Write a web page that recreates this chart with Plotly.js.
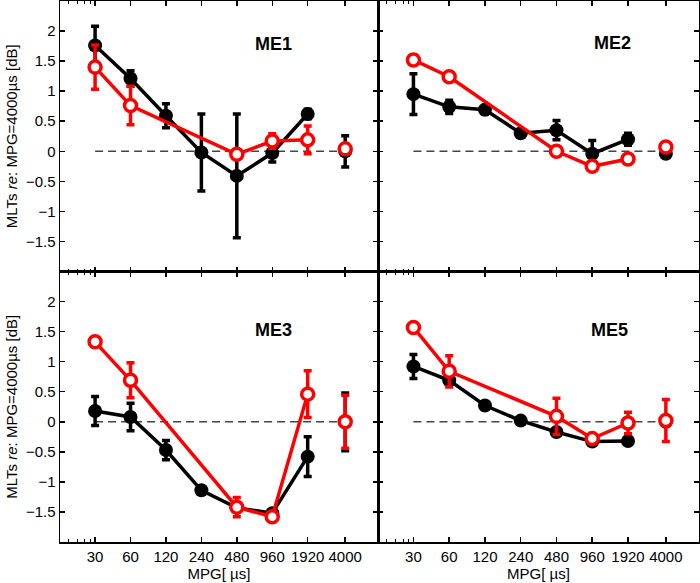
<!DOCTYPE html>
<html>
<head>
<meta charset="utf-8">
<script src="https://cdn.plot.ly/plotly-3.0.1.min.js"></script>
<style>
  body { margin: 0; background: #fff; }
  #graph { width: 700px; height: 583px; }
</style>
</head>
<body>
<div id="graph"></div>
<script>
// x positions (MPG in microseconds)
var mpgBlack = [30, 60, 120, 240, 480, 960, 1920];
var mpgRed = [30, 60, 480, 960, 1920];
var mpgRef = [4000];
var tickVals = [30, 60, 120, 240, 480, 960, 1920, 4000];
var tickText = ['30', '60', '120', '240', '480', '960', '1920', '4000'];
var panelNames = ['ME1', 'ME2', 'ME3', 'ME5'];

// ME1
var me1Black = [1.76, 1.21, 0.59, -0.02, -0.41, -0.03, 0.62];
var me1BlackErr = [0.32, 0.13, 0.2, 0.64, 1.03, 0.15, 0.08];
var me1Red = [1.40, 0.76, -0.05, 0.17, 0.19];
var me1RedErr = [0.37, 0.32, 0.04, 0.12, 0.23];
var me1Ref = [0, 0.04];
var me1RefErr = [0.26, 0.05];

// ME2
var me2Black = [0.95, 0.74, 0.69, 0.30, 0.35, -0.04, 0.2];
var me2BlackErr = [0.34, 0.11, 0.07, 0.03, 0.16, 0.22, 0.1];
var me2Red = [1.52, 1.24, 0.0, -0.25, -0.13];
var me2RedErr = [0.08, 0.07, 0.03, 0.03, 0.03];
var me2Ref = [-0.04, 0.07];
var me2RefErr = [0.04, 0.03];

// ME3
var me3Black = [0.18, 0.08, -0.47, -1.14, -1.43, -1.52, -0.58];
var me3BlackErr = [0.24, 0.23, 0.16, 0.05, 0.05, 0.05, 0.33];
var me3Red = [1.33, 0.69, -1.42, -1.58, 0.46];
var me3RedErr = [0.03, 0.29, 0.16, 0.03, 0.39];
var me3Ref = [0, 0];
var me3RefErr = [0.48, 0.44];

// ME5
var me5Black = [0.92, 0.69, 0.27, 0.02, -0.17, -0.33, -0.32];
var me5BlackErr = [0.2, 0.07, 0.03, 0.03, 0.05, 0.05, 0.05];
var me5Red = [1.57, 0.84, 0.09, -0.28, -0.02];
var me5RedErr = [0.07, 0.26, 0.3, 0.05, 0.18];
var me5Ref = [0, 0.02];
var me5RefErr = [0.05, 0.35];

var panels = [
  {b: me1Black, be: me1BlackErr, r: me1Red, re: me1RedErr, ref: me1Ref, refe: me1RefErr},
  {b: me2Black, be: me2BlackErr, r: me2Red, re: me2RedErr, ref: me2Ref, refe: me2RefErr},
  {b: me3Black, be: me3BlackErr, r: me3Red, re: me3RedErr, ref: me3Ref, refe: me3RefErr},
  {b: me5Black, be: me5BlackErr, r: me5Red, re: me5RedErr, ref: me5Ref, refe: me5RefErr}
];

var RED = '#ff0000';
var data = [];

function errBar(arr, col) {
  return {type: 'data', array: arr, visible: true, color: col, thickness: 3.5, width: 4};
}

panels.forEach(function(p, i) {
  var xa = i === 0 ? 'x' : 'x' + (i + 1);
  var ya = i === 0 ? 'y' : 'y' + (i + 1);
  // dashed zero line
  data.push({x: [30, 4000], y: [0, 0], xaxis: xa, yaxis: ya, mode: 'lines',
    line: {color: '#444', width: 1.5, dash: '8px,5px'}, hoverinfo: 'skip'});
  var blackMarker = {symbol: 'circle', size: 14, color: '#000'};
  var redMarker = {symbol: 'circle', size: 12, color: '#fff', line: {color: RED, width: 3.5}};
  data.push({x: mpgBlack, y: p.b, xaxis: xa, yaxis: ya, mode: 'lines+markers',
    line: {color: '#000', width: 3.5}, marker: blackMarker, error_y: errBar(p.be, '#000')});
  data.push({x: mpgRef, y: [p.ref[0]], xaxis: xa, yaxis: ya, mode: 'markers',
    marker: blackMarker, error_y: errBar([p.refe[0]], '#000')});
  data.push({x: mpgRed, y: p.r, xaxis: xa, yaxis: ya, mode: 'lines+markers',
    line: {color: RED, width: 3.5}, marker: redMarker, error_y: errBar(p.re, RED)});
  data.push({x: mpgRef, y: [p.ref[1]], xaxis: xa, yaxis: ya, mode: 'markers',
    marker: redMarker, error_y: errBar([p.refe[1]], RED)});
});

var font = {family: 'Liberation Sans, Arial, sans-serif', size: 15, color: '#000'};

function xAxis(dom, anchor, labels) {
  return {
    type: 'log', domain: dom, anchor: anchor, range: [1.179, 3.881],
    tickmode: 'array', tickvals: tickVals, ticktext: tickText, showticklabels: labels,
    ticks: 'inside', ticklen: 5, tickwidth: 1.5, tickcolor: '#000',
    minor: {tickmode: 'array', tickvals: [17.7, 21.1, 24.6, 27.2], ticks: 'inside', ticklen: 3, tickwidth: 1, tickcolor: '#000'},
    showline: true, linecolor: '#000', linewidth: 1.5, mirror: 'ticks',
    showgrid: false, zeroline: false, tickfont: font,
    title: labels ? {text: 'MPG[ µs]', font: font, standoff: 2} : {text: ''}
  };
}

function yAxis(dom, anchor, labels) {
  return {
    domain: dom, anchor: anchor, range: [-2, 2.5],
    tickmode: 'array', tickvals: [-1.5, -1, -0.5, 0, 0.5, 1, 1.5, 2],
    ticktext: ['\u22121.5', '\u22121', '\u22120.5', '0', '0.5', '1', '1.5', '2'],
    showticklabels: labels,
    ticks: 'inside', ticklen: 5, tickwidth: 1.5, tickcolor: '#000',
    showline: true, linecolor: '#000', linewidth: 1.5, mirror: 'ticks',
    showgrid: false, zeroline: false, tickfont: font,
    title: labels ? {text: 'MLTs <i>re</i>: MPG=4000µs [dB]', font: font, standoff: 4} : {text: ''}
  };
}

var labelPos = [[0.736, 0.885], [0.794, 0.89], [0.736, 0.827], [0.785, 0.827]];
var annotations = panelNames.map(function(n, i) {
  var s = i === 0 ? '' : String(i + 1);
  return {text: '<b>' + n + '</b>', xref: 'x' + s + ' domain', yref: 'y' + s + ' domain',
    x: labelPos[i][0], y: labelPos[i][1], showarrow: false,
    font: {family: 'Liberation Sans, Arial, sans-serif', size: 18, color: '#000'}};
});

var layout = {
  width: 700, height: 583,
  margin: {l: 60, r: 1, t: 1, b: 41},
  paper_bgcolor: '#fff', plot_bgcolor: '#fff',
  showlegend: false,
  font: font,
  xaxis: xAxis([0, 0.4977], 'y', false),
  yaxis: yAxis([0.5, 1], 'x', true),
  xaxis2: xAxis([0.4977, 1], 'y2', false),
  yaxis2: yAxis([0.5, 1], 'x2', false),
  xaxis3: xAxis([0, 0.4977], 'y3', true),
  yaxis3: yAxis([0, 0.5], 'x3', true),
  xaxis4: xAxis([0.4977, 1], 'y4', true),
  yaxis4: yAxis([0, 0.5], 'x4', false),
  annotations: annotations
};

Plotly.newPlot('graph', data, layout, {displayModeBar: false, staticPlot: true});
</script>
</body>
</html>
